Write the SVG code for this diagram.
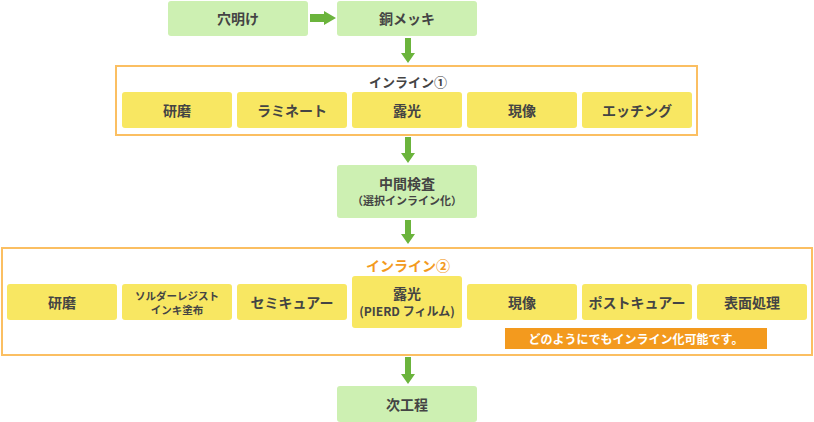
<svg xmlns="http://www.w3.org/2000/svg" width="814" height="422" viewBox="0 0 814 422">
<style>
text{font-family:"Noto Sans CJK JP","Noto Sans",sans-serif;font-weight:700;fill:#444;text-anchor:middle;dominant-baseline:central}
.g{fill:#cdf0b2}
.y{fill:#f8e762}
.frame{fill:none;stroke:#fbbf62;stroke-width:2}
.arr{fill:#6bb43c}
.t14{font-size:14px}
.t13{font-size:13px}
.t11{font-size:11px}
.t10{font-size:10.5px}
.t12{font-size:12px}
</style>
<rect width="814" height="422" fill="#fff"/>
<g id="connectors">
<polygon class="arr" points="310,14 324,14 324,11 336,18 324,25 324,22 310,22"/>
<polygon class="arr" points="405,38 411,38 411,53 415,53 408,63 401,53 405,53"/>
<polygon class="arr" points="405,137 411,137 411,153 415,153 408,163 401,153 405,153"/>
<polygon class="arr" points="405,220 411,220 411,234 415,234 408,244 401,234 405,234"/>
<polygon class="arr" points="405,357 411,357 411,374 415,374 408,384 401,374 405,374"/>
</g>
<g id="anaake"><rect class="g" x="168" y="1" width="140" height="35" rx="3"/><text class="t14" x="238" y="18">穴明け</text></g>
<g id="doumekki"><rect class="g" x="337" y="1" width="140" height="35" rx="3"/><text class="t14" x="407" y="18">銅メッキ</text></g>
<g id="inline1">
<rect class="frame" x="116" y="66" width="581" height="69"/>
<text class="t13" x="408" y="81">インライン①</text>
</g>
<g id="kenma1"><rect class="y" x="122" y="92" width="110" height="36" rx="3"/><text class="t14" x="177" y="110">研磨</text></g>
<g id="laminate"><rect class="y" x="237" y="92" width="110" height="36" rx="3"/><text class="t14" x="292" y="110">ラミネート</text></g>
<g id="roko1"><rect class="y" x="352" y="92" width="110" height="36" rx="3"/><text class="t14" x="407" y="110">露光</text></g>
<g id="genzo1"><rect class="y" x="467" y="92" width="110" height="36" rx="3"/><text class="t14" x="522" y="110">現像</text></g>
<g id="etching"><rect class="y" x="582" y="92" width="110" height="36" rx="3"/><text class="t14" x="637" y="110">エッチング</text></g>
<g id="chukan"><rect class="g" x="337" y="165" width="140" height="53" rx="3"/><text class="t14" x="407" y="183">中間検査</text><text class="t11" x="407" y="200">（選択インライン化）</text></g>
<g id="inline2">
<rect class="frame" x="2" y="248" width="810" height="107"/>
<text class="t14" x="408" y="265" style="fill:#f39a1e">インライン②</text>
</g>
<g id="kenma2"><rect class="y" x="7" y="284" width="110" height="36" rx="3"/><text class="t14" x="62" y="302">研磨</text></g>
<g id="solder"><rect class="y" x="122" y="284" width="110" height="36" rx="3"/><text class="t10" x="177" y="295">ソルダーレジスト</text><text class="t10" x="177" y="309.5">インキ塗布</text></g>
<g id="semicure"><rect class="y" x="237" y="284" width="110" height="36" rx="3"/><text class="t14" x="292" y="302">セミキュアー</text></g>
<g id="roko2"><rect class="y" x="352" y="276" width="110" height="52" rx="3"/><text class="t14" x="407" y="293">露光</text><text class="t12" x="407" y="310">(PIERD フィルム)</text></g>
<g id="genzo2"><rect class="y" x="467" y="284" width="110" height="36" rx="3"/><text class="t14" x="522" y="302">現像</text></g>
<g id="postcure"><rect class="y" x="582" y="284" width="110" height="36" rx="3"/><text class="t14" x="637" y="302">ポストキュアー</text></g>
<g id="hyomen"><rect class="y" x="697" y="284" width="110" height="36" rx="3"/><text class="t14" x="752" y="302">表面処理</text></g>
<g id="note"><rect x="505" y="328" width="262" height="21" fill="#f39a1e"/><text class="t12" x="636" y="338.5" style="fill:#fff">どのようにでもインライン化可能です。</text></g>
<g id="jikotei"><rect class="g" x="337" y="386" width="140" height="36" rx="3"/><text class="t14" x="407" y="404">次工程</text></g>
</svg>
